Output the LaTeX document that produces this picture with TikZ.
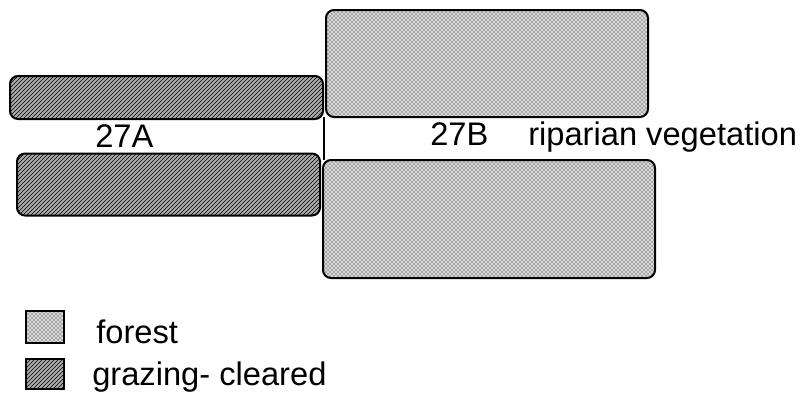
\documentclass[tikz,border=0pt]{standalone}
\usepackage{fontspec}
\setmainfont{Liberation Sans}
\usetikzlibrary{patterns}

\begin{document}
\begin{tikzpicture}[x=0.75pt, y=-0.75pt,
	plotbox/.style={draw, line width=1.5pt, rounded corners=6pt, inner sep=0pt, outer sep=0pt},
	forestbox/.style={plotbox, preaction={fill=gray!30}, pattern=crosshatch dots},
	grazebox/.style={plotbox, preaction={fill=gray!65}, pattern=north east lines},
	keybox/.style={draw, line width=2pt, inner sep=0pt, outer sep=0pt},
	tag/.style={inner sep=0pt, anchor=base west, font=\fontsize{24.5}{29}\selectfont}]
	\def\px{0.75pt}
	
	\useasboundingbox (0,0) rectangle (804,394);
	
	% plots
	\node[grazebox, minimum width={313*\px}, minimum height={43*\px}] (grazeTop) at (166.5,97.5) {};
	\node[grazebox, minimum width={303*\px}, minimum height={62*\px}] (grazeBot) at (168.5,184.5) {};
	\node[forestbox, minimum width={322*\px}, minimum height={107*\px}] (forestTop) at (487,63.5) {};
	\node[forestbox, minimum width={332*\px}, minimum height={118*\px}] (forestBot) at (489,219) {};
	
	\draw[line width=1.5pt] ([xshift=-2.5*\px]forestTop.south west) -- ([xshift=-2.5*\px]forestTop.south west |- forestBot.north);
	
	\node[tag] (siteA) at (95,147) {27A};
	\node[tag] (siteB) at (430,145) {27B};
	\node[tag] (riparian) at (528,145) {riparian vegetation};
	
	% legend
	\node[keybox, preaction={fill=gray!30}, pattern=crosshatch dots, minimum width={38*\px}, minimum height={32*\px}] (keyForest) at (45,327) {};
	\node[keybox, preaction={fill=gray!65}, pattern=north east lines, minimum width={38*\px}, minimum height={30*\px}] (keyGraze) at (45,374) {};
	\node[tag] (forestText) at (96,343) {forest};
	\node[tag] (grazeText) at (92,385) {grazing- cleared};
\end{tikzpicture}
\end{document}
